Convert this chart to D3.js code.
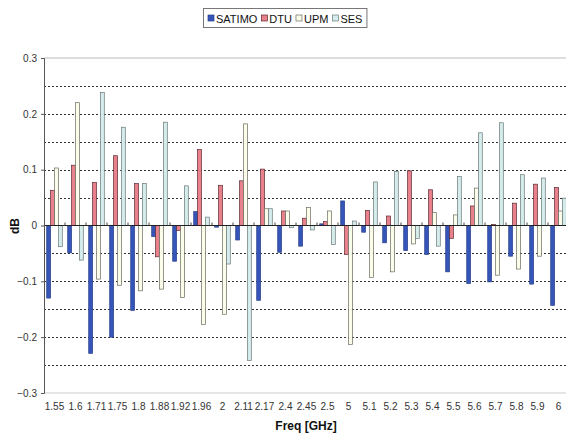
<!DOCTYPE html>
<html>
<head>
<meta charset="utf-8">
<script src="https://cdnjs.cloudflare.com/ajax/libs/d3/7.8.5/d3.min.js"></script>
<style>
body { margin: 0; background: #fff; }
svg { display: block; font-family: "Liberation Sans", Arial, sans-serif; }
.tick-label { font-size: 10px; fill: #333; }
.axis-title { font-size: 12px; font-weight: bold; fill: #111; }
.legend-label { font-size: 11px; fill: #111; }
</style>
</head>
<body>
<svg id="chart" width="566" height="434"></svg>
<script>

// frequencies on the category axis
var freqs = ["1.55", "1.6", "1.71", "1.75", "1.8", "1.88", "1.92", "1.96", "2", "2.11", "2.17", "2.4",
	"2.45", "2.5", "5", "5.1", "5.2", "5.3", "5.4", "5.5", "5.6", "5.7", "5.8", "5.9", "6"];

var seriesNames = ["SATIMO", "DTU", "UPM", "SES"];

// dB differences
var satimo = [-0.13, -0.049, -0.229, -0.2, -0.152, -0.02, -0.064, 0.025, -0.003, -0.026, -0.134, -0.048,
	-0.037, 0.003, 0.044, -0.012, -0.031, -0.045, -0.052, -0.083, -0.104, -0.101, -0.055, -0.105, -0.143];
var dtu = [0.063, 0.108, 0.077, 0.125, 0.075, -0.056, -0.009, 0.136, 0.072, 0.08, 0.101, 0.026,
	0.013, 0.007, -0.052, 0.027, 0.017, 0.098, 0.064, -0.023, 0.035, 0.002, 0.04, 0.074, 0.068];
var upm = [0.103, 0.22, -0.096, -0.107, -0.117, -0.114, -0.129, -0.177, -0.159, 0.182, 0.03, 0.026,
	0.032, 0.026, -0.213, -0.093, -0.083, -0.033, 0.023, 0.019, 0.067, -0.089, -0.078, -0.055, 0.026];
var ses = [-0.038, -0.062, 0.238, 0.176, 0.075, 0.185, 0.071, 0.015, -0.069, -0.242, 0.03, -0.004,
	-0.008, -0.034, 0.008, 0.078, 0.097, -0.023, -0.037, 0.088, 0.166, 0.184, 0.091, 0.085, 0.049];

var yTicks = [-0.3, -0.2, -0.1, 0, 0.1, 0.2, 0.3];

var fills = ["#3556b8", "#e8818b", "#fcfcea", "#d6ebeb"];
var strokes = ["#2a3f8a", "#5a2a30", "#6a6a60", "#6a7878"];

var values = [satimo, dtu, upm, ses];
var rows = freqs.map(function(f, i) {
	return { freq: f, vals: seriesNames.map(function(s, j) { return { name: s, idx: j, v: values[j][i] }; }) };
});

var svg = d3.select("#chart");

var left = 44, step = 21;
var x0 = d3.scaleBand()
	.domain(freqs)
	.range([left, left + step * freqs.length])
	.paddingInner(0.257)
	.paddingOuter(0.1285);
var x1 = d3.scaleBand()
	.domain(seriesNames)
	.range([0, x0.bandwidth()]);
var y = d3.scaleLinear()
	.domain([-0.3, 0.3])
	.range([393, 58]);

var right = left + step * freqs.length;

// dotted grid every 0.05
var grid = d3.range(-0.25, 0.3, 0.05).filter(function(d) { return Math.abs(d) > 0.01; });
svg.append("g").selectAll("line")
	.data(grid).enter()
	.append("line")
	.attr("x1", left).attr("x2", right)
	.attr("y1", function(d) { return Math.round(y(d)) + 0.5; })
	.attr("y2", function(d) { return Math.round(y(d)) + 0.5; })
	.attr("stroke", "#333")
	.attr("stroke-width", 1)
	.attr("stroke-dasharray", "2,2");

// plot border top/bottom
svg.append("line")
	.attr("x1", left).attr("x2", right)
	.attr("y1", y(0.3)).attr("y2", y(0.3))
	.attr("stroke", "#bbb").attr("stroke-width", 1.2);
svg.append("line")
	.attr("x1", left).attr("x2", right)
	.attr("y1", y(-0.3)).attr("y2", y(-0.3))
	.attr("stroke", "#ccc").attr("stroke-width", 1.2);

// bars
var groups = svg.append("g").selectAll("g")
	.data(rows).enter()
	.append("g")
	.attr("transform", function(d) { return "translate(" + x0(d.freq) + ",0)"; });
groups.selectAll("rect")
	.data(function(d) { return d.vals; }).enter()
	.append("rect")
	.attr("x", function(d) { return x1(d.name); })
	.attr("width", x1.bandwidth())
	.attr("y", function(d) { return y(Math.max(0, d.v)); })
	.attr("height", function(d) { return Math.abs(y(d.v) - y(0)); })
	.attr("fill", function(d) { return fills[d.idx]; })
	.attr("stroke", function(d) { return strokes[d.idx]; })
	.attr("stroke-width", 0.7);

// zero line and category ticks
var xAxis = d3.axisTop(x0).tickSize(0).tickFormat("");
svg.append("line")
	.attr("x1", left).attr("x2", right)
	.attr("y1", y(0)).attr("y2", y(0))
	.attr("stroke", "#222").attr("stroke-width", 1);
svg.append("g").selectAll("line")
	.data(d3.range(1, freqs.length)).enter()
	.append("line")
	.attr("x1", function(i) { return left + i * step; })
	.attr("x2", function(i) { return left + i * step; })
	.attr("y1", y(0)).attr("y2", y(0) - 3)
	.attr("stroke", "#444");

// x labels
svg.append("g").selectAll("text")
	.data(freqs).enter()
	.append("text")
	.attr("class", "tick-label")
	.attr("x", function(d) { return x0(d) + x0.bandwidth() / 2; })
	.attr("y", 410)
	.attr("text-anchor", "middle")
	.text(function(d) { return d; });

// y axis
var yAxis = d3.axisLeft(y).tickValues(yTicks).tickSize(3).tickFormat(d3.format("~g"));
var yG = svg.append("g")
	.attr("transform", "translate(" + left + ",0)")
	.call(yAxis);
yG.select(".domain").attr("stroke", "#555");
yG.selectAll(".tick line").attr("stroke", "#555");
yG.selectAll(".tick text")
	.attr("class", "tick-label")
	.attr("x", -7)
	.style("font-family", null).style("font-size", null)
	.attr("font-family", null).attr("font-size", null);

svg.append("text")
	.attr("class", "axis-title")
	.attr("text-anchor", "middle")
	.attr("transform", "translate(" + 19 + "," + 226 + ") rotate(-90)")
	.text("dB");

svg.append("text")
	.attr("class", "axis-title")
	.attr("text-anchor", "middle")
	.attr("x", 306)
	.attr("y", 430)
	.text("Freq [GHz]");

// legend
var legend = svg.append("g").attr("transform", "translate(" + 203 + "," + 8 + ")");
var legBox = legend.append("rect")
	.attr("fill", "#fff")
	.attr("stroke", "#777")
	.attr("stroke-width", 1);
var lx = 5;
seriesNames.forEach(function(s, i) {
	legend.append("rect")
		.attr("x", lx).attr("y", 7)
		.attr("width", 6).attr("height", 6)
		.attr("fill", fills[i])
		.attr("stroke", strokes[i])
		.attr("stroke-width", 0.7);
	var t = legend.append("text")
		.attr("class", "legend-label")
		.attr("x", lx + 8)
		.attr("y", 14.5)
		.text(s);
	lx += 8 + t.node().getComputedTextLength() + 4;
});
legBox.attr("x", 0.5).attr("y", 0.5).attr("width", lx).attr("height", 19);

</script>
</body>
</html>
